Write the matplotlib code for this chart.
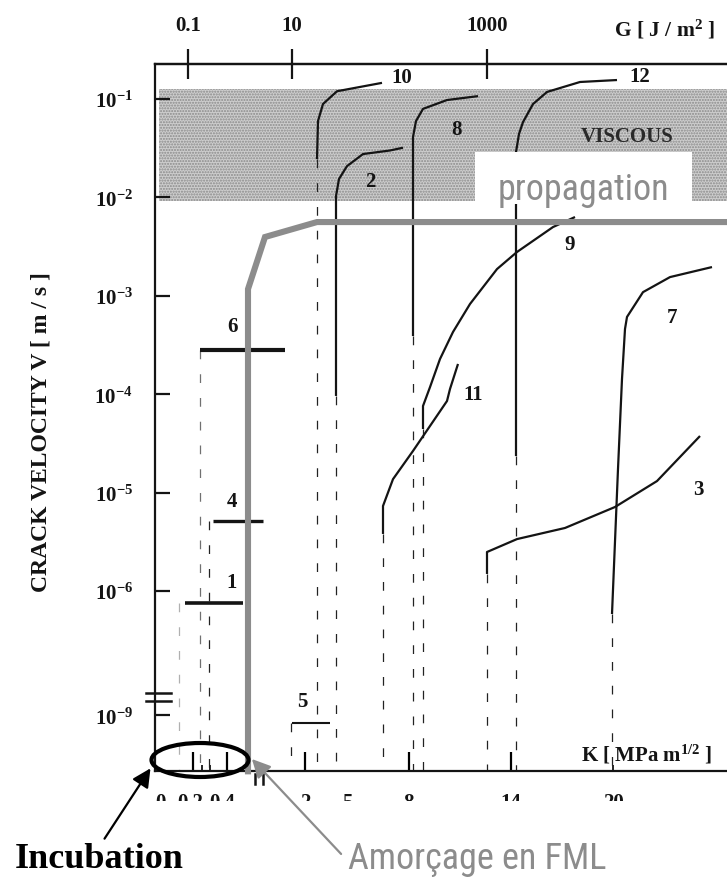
import numpy as np
import matplotlib
matplotlib.use("Agg")
import matplotlib.pyplot as plt
from matplotlib.patches import Ellipse
from matplotlib.transforms import Bbox, TransformedBbox, IdentityTransform

plt.rcParams["mathtext.fontset"] = "custom"
plt.rcParams["mathtext.rm"] = "Liberation Serif:bold"
plt.rcParams["mathtext.bf"] = "Liberation Serif:bold"
plt.rcParams["mathtext.it"] = "Liberation Serif:bold"
plt.rcParams["font.family"] = ["Liberation Serif"]
plt.rcParams["font.weight"] = "bold"

# x: position along the K axis (axis is not linear in K), y: crack velocity V [m/s]
c10_x = [162, 163, 168, 182, 227]
c10_v = [2.45e-2, 5.97e-2, 8.9e-2, 0.12, 0.146]
c2_x = [181, 181, 184, 192, 208, 235, 248]
c2_v = [9.6e-5, 1.03e-2, 1.54e-2, 2.08e-2, 2.76e-2, 3.0e-2, 3.2e-2]
c8_x = [258, 258, 261, 268, 292, 323]
c8_v = [3.9e-4, 4.11e-2, 5.97e-2, 7.94e-2, 9.77e-2, 0.107]
c12_x = [361, 361, 364, 368, 378, 392, 425, 462]
c12_v = [2.35e-5, 2.89e-2, 4.41e-2, 5.83e-2, 8.89e-2, 0.118, 0.149, 0.156]
c9_x = [268, 268, 275, 285, 298, 315, 342, 362, 398, 420]
c9_v = [4.43e-5, 7.59e-5, 1.18e-4, 2.28e-4, 4.29e-4, 8.26e-4, 1.87e-3,
        2.79e-3, 5.0e-3, 6.32e-3]
c11_x = [228, 228, 238, 258, 292, 295, 303]
c11_v = [3.8e-6, 7.31e-6, 1.37e-5, 2.65e-5, 8.53e-5, 1.13e-4, 2.03e-4]
c3_x = [332, 332, 362, 410, 460, 502, 545]
c3_v = [1.49e-6, 2.49e-6, 3.37e-6, 4.37e-6, 7.14e-6, 1.31e-5, 3.76e-5]
c7_x = [457, 463, 467, 470, 472, 488, 515, 557]
c7_v = [5.83e-7, 1.74e-5, 1.43e-4, 4.6e-4, 6.1e-4, 1.09e-3, 1.55e-3, 1.96e-3]

# constant-velocity results (materials 1, 4, 6, 5)
flat_ids = ["1", "4", "6", "5"]
flat_x0 = [30, 58, 45, 137]
flat_x1 = [88, 108, 130, 175]
flat_v = [7.55e-7, 5.14e-6, 2.81e-4, 8.4e-10]
flat_lw = [2.6, 2.4, 3.0, 1.5]

# threshold (dashed) lines: x position and the velocity where they stop
drop_x = [24, 45, 54, 136, 162, 181, 228, 258, 268, 332, 361, 457]
drop_v = [7.55e-7, 2.81e-4, 5.14e-6, 8.4e-10, 2.45e-2, 9.6e-5, 3.8e-6,
          3.9e-4, 4.43e-5, 1.49e-6, 2.35e-5, 5.83e-7]
drop_col = ["#b0b0b0", "#707070", "#222222", "#222222", "#222222", "#222222",
            "#222222", "#222222", "#222222", "#222222", "#222222", "#222222"]

# curve labels
lab_txt = ["10", "12", "8", "2", "9", "7", "11", "3", "6", "4", "1", "5"]
lab_x = [247, 485, 302, 215, 415, 517, 318, 543, 77, 77, 77, 147]
lab_v = [0.1675, 0.171, 4.95e-2, 1.47e-2, 3.36e-3, 6.1e-4, 1.0e-4, 1.09e-5,
         4.93e-4, 8.22e-6, 1.23e-6, 1.28e-8]

# grey initiation / propagation envelope
env_x = [93, 93, 110, 162, 572]
env_v = [2.7e-10, 1.17e-3, 3.96e-3, 5.62e-3, 5.62e-3]

viscous_v = [9.18e-3, 0.1265]

ytick_v = [1e-1, 1e-2, 1e-3, 1e-4, 1e-5, 1e-6, 1e-9]
ytick_lab = [r"$10^{-1}$", r"$10^{-2}$", r"$10^{-3}$", r"$10^{-4}$",
             r"$10^{-5}$", r"$10^{-6}$", r"$10^{-9}$"]
g_pos = [33, 137, 332]
g_lab = ["0.1", "10", "1000"]
k_major = [38, 72, 150, 254, 356]
k_minor = [47, 55, 458]
k_lab_pos = [5, 35, 67, 150, 192, 253, 356, 458]
k_lab = ["0", "0.2", "0.4", "2", "5", "8", "14", "20"]


def fwd(v):
    lv = np.log10(np.clip(v, 1e-30, None))
    return np.where(lv >= -7, lv,
                    np.where(lv >= -9, -7 + (lv + 7) * 0.132,
                             -7.264 + (lv + 9)))


def inv(u):
    return 10 ** np.where(u >= -7, u,
                          np.where(u >= -7.264, -7 + (u + 7) / 0.132,
                                   -9 + (u + 7.264)))


W, H = 727, 879
fig = plt.figure(figsize=(W / 100, H / 100), dpi=100)
ax = fig.add_axes([155 / W, 1 - 772 / H, 1 - 155 / W, (772 - 65) / H])
ax.set_yscale("function", functions=(fwd, inv))
ax.set_xlim(0, 572)
ax.set_ylim(2.72e-10, 0.227)

ink = "#141414"
grey = "#8c8c8c"
narrow = ["Roboto Condensed", "Liberation Sans"]

ax.fill_between([4, 572], viscous_v[0], viscous_v[1], facecolor="#cdcdcd",
                edgecolor="#8a8a8a", hatch="......", lw=0, zorder=1)
ax.text(627 - 155, 4.2e-2, "VISCOUS", fontsize=15, color="#2a2a2a",
        ha="center", va="center", zorder=2)

for xs, vs in [(c10_x, c10_v), (c2_x, c2_v), (c8_x, c8_v), (c12_x, c12_v),
               (c9_x, c9_v), (c11_x, c11_v), (c3_x, c3_v), (c7_x, c7_v)]:
    ax.plot(xs, vs, color=ink, lw=1.6, zorder=3, solid_capstyle="butt")

for x0, x1, v, lw in zip(flat_x0, flat_x1, flat_v, flat_lw):
    ax.plot([x0, x1], [v, v], color=ink, lw=lw, zorder=3,
            solid_capstyle="butt")

for x, v, c in zip(drop_x, drop_v, drop_col):
    ax.plot([x, x], [v, 2.72e-10], color=c, lw=0.9, dashes=(7, 12),
            zorder=2)

for t, x, v in zip(lab_txt, lab_x, lab_v):
    ax.text(x, v, t, fontsize=15, color=ink, ha="center", va="center",
            zorder=4)

# white box for the "propagation" tag
ax.fill_between([320, 537], 8.5e-3, 2.89e-2, color="white", lw=0, zorder=4)
ax.text(428, 1.22e-2, "propagation", fontsize=26, color=grey,
        family=narrow, weight="normal",
        ha="center", va="center", zorder=5)

ax.plot(env_x, env_v, color=grey, lw=4.4, zorder=6, solid_joinstyle="miter",
        clip_on=False)

# axes styling
for side in ["left", "top", "bottom"]:
    ax.spines[side].set_linewidth(1.6)
    ax.spines[side].set_color(ink)
ax.spines["right"].set_visible(False)

ax.set_yticks(ytick_v)
ax.set_yticklabels(ytick_lab)
ax.yaxis.set_minor_locator(matplotlib.ticker.NullLocator())
ax.tick_params(axis="y", direction="in", length=11, width=1.6, pad=16,
               labelsize=15, colors=ink)

ax.set_xticks(k_major)
ax.set_xticklabels([])
ax.set_xticks(k_minor, minor=True)
ax.tick_params(axis="x", which="major", direction="in", length=14, width=1.6)
ax.tick_params(axis="x", which="minor", direction="in", length=4, width=1.2)

# bottom K labels are cut off in the original, keep only their top part
clip = TransformedBbox(Bbox([[0, 1 - 802 / H], [1, 1]]), fig.transFigure)
for x, t in zip(k_lab_pos, k_lab):
    tx = ax.text(x, -0.03, t, transform=ax.get_xaxis_transform(),
                 fontsize=15, ha="center", va="top", color=ink)
    tx.set_clip_box(clip)
    tx.set_clip_on(True)

top = ax.secondary_xaxis("top")
top.set_xticks(g_pos)
top.set_xticklabels(g_lab)
top.spines["top"].set_linewidth(1.6)
top.tick_params(direction="inout", length=22, width=1.6, pad=10,
                labelsize=15, colors=ink)

fig.text(665 / W, 1 - 30 / H, r"G [ J / m$^{2}$ ]", fontsize=15.5,
         ha="center", va="center", color=ink)
fig.text(647 / W, 1 - 755 / H, r"K [ MPa m$^{1/2}$ ]", fontsize=15,
         ha="center", va="center", color=ink)
fig.text(41 / W, 1 - 432 / H, "CRACK VELOCITY V [ m / s ]", fontsize=17,
         rotation=90, ha="center", va="center", color=ink)

# axis break marks
brk_x = [(146 - 155) / 572, (171 - 155) / 572]
for fy in [694, 702]:
    ax.plot(brk_x, [1 - (fy - 65) / 707] * 2, transform=ax.transAxes,
            color=ink, lw=1.8, clip_on=False)
for bx in [100, 108]:
    ax.plot([bx, bx], [-0.004, -0.019], transform=ax.get_xaxis_transform(),
            color=ink, lw=1.8, clip_on=False)

# annotations
fig.add_artist(Ellipse((200, H - 761), 97, 34, fill=False, lw=3.0,
                       edgecolor="black", transform=IdentityTransform(),
                       zorder=7))
ax.annotate("", xy=(152, H - 767), xytext=(103, H - 842),
            xycoords="figure pixels", textcoords="figure pixels",
            arrowprops=dict(arrowstyle="-|>", color="black", lw=1.6,
                            mutation_scale=28), annotation_clip=False)
ax.annotate("", xy=(250, H - 758), xytext=(343, H - 857),
            xycoords="figure pixels", textcoords="figure pixels",
            arrowprops=dict(arrowstyle="-|>", color=grey, lw=1.6,
                            mutation_scale=28), annotation_clip=False)
fig.text(99 / W, 1 - 860 / H, "Incubation", fontsize=26, ha="center",
         va="center", color="black")
fig.text(348 / W, 1 - 869 / H, "Amorçage en FML", fontsize=26, color=grey,
         family=narrow, weight="normal",
         ha="left", va="baseline")

fig.savefig("out.png", dpi=100)
